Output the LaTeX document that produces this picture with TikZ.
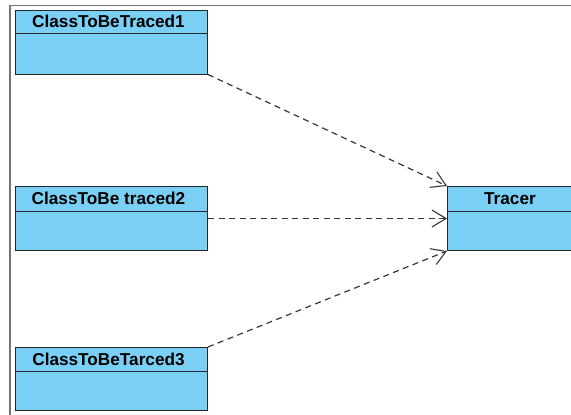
\documentclass[tikz,border=0pt]{standalone}
\usepackage{fontspec}
\setmainfont{Liberation Sans}
\usetikzlibrary{arrows.meta,calc}
\definecolor{classfill}{RGB}{122,207,245}
\definecolor{edgegray}{RGB}{55,55,55}
\begin{document}
\begin{tikzpicture}[x=1pt,y=-1pt,
  classbox/.style={draw=black!85,line width=1pt,fill=classfill,rectangle,inner sep=0pt,anchor=north west},
  classname/.style={font=\bfseries\fontsize{17.2}{18}\selectfont,inner sep=0pt},
  depend/.style={draw=edgegray,line width=1.2pt,dash pattern=on 6pt off 4.5pt,
    -{Straight Barb[length=14pt,width=17pt,line width=1.1pt]}},
  frameline/.style={draw=black!55,line width=1.6pt}]
  \useasboundingbox (0,0) rectangle (571,415);
  \fill[white] (0,0) rectangle (571,415);
  % frame edges
  \coordinate (ftl) at (10,5.5);
  \coordinate (ftr) at (571,5.5);
  \coordinate (fbl) at (10,415);
  \draw[frameline] (ftr) -- (ftl) -- (fbl);
  % classes
  \node[classbox,minimum width=192pt,minimum height=64pt] (c1) at (15,9.5) {};
  \node[classbox,minimum width=192pt,minimum height=64pt] (c2) at (15,186) {};
  \node[classbox,minimum width=192pt,minimum height=63pt] (c3) at (15,347) {};
  \node[classbox,minimum width=125pt,minimum height=64pt] (tr) at (447,186) {};
  \draw[line width=1pt,black!85] ($(c1.north west)+(0,24)$) -- ($(c1.north east)+(0,24)$);
  \draw[line width=1pt,black!85] ($(c2.north west)+(0,25)$) -- ($(c2.north east)+(0,25)$);
  \draw[line width=1pt,black!85] ($(c3.north west)+(0,24)$) -- ($(c3.north east)+(0,24)$);
  \draw[line width=1pt,black!85] ($(tr.north west)+(0,25)$) -- ($(tr.north east)+(0,25)$);
  \node[classname] (n1) at ($(c1.north)+(-3,12)$) {ClassToBeTraced1};
  \node[classname] (n2) at ($(c2.north)+(-3,12.5)$) {ClassToBe traced2};
  \node[classname] (n3) at ($(c3.north)+(-3,12)$) {ClassToBeTarced3};
  \node[classname] (nt) at ($(tr.north)+(0,12.5)$) {Tracer};
  % dependencies
  \draw[depend] (c1.south east) -- (tr.north west);
  \draw[depend] (c2.east) -- (tr.west);
  \draw[depend] (c3.north east) -- (tr.south west);
\end{tikzpicture}
\end{document}
